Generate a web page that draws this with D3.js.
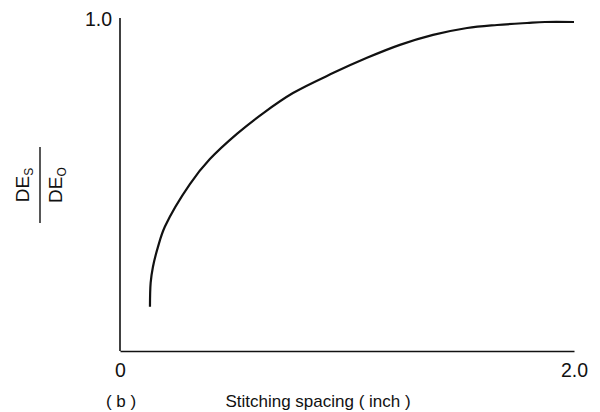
<!DOCTYPE html>
<html>
<head>
<meta charset="utf-8">
<script src="https://cdn.jsdelivr.net/npm/d3@7"></script>
<style>
  body { margin: 0; background: #fff; }
  svg text { font-family: "Liberation Sans", Arial, Helvetica, sans-serif; fill: #111; }
  .axis path { stroke: #111; stroke-width: 1.6; }
</style>
</head>
<body>
<div id="chart"></div>
<script>

// stitching spacing (inch) vs DEs/DEo
var spacing = [0.132, 0.135, 0.145, 0.167, 0.198, 0.308, 0.396, 0.515, 0.630,
               0.762, 0.938, 1.088, 1.233, 1.379, 1.529, 1.661, 1.793, 1.872, 2.0];
var ratio   = [0.133, 0.205, 0.253, 0.313, 0.375, 0.503, 0.578, 0.654, 0.716,
               0.777, 0.837, 0.883, 0.922, 0.952, 0.973, 0.982, 0.988, 0.991, 0.991];

var xTicks = [0, 2];
var xTickLabels = ["0", "2.0"];
var yTicks = [1];
var yTickLabels = ["1.0"];

var W = 600, H = 412;

var svg = d3.select("#chart").append("svg")
            .attr("width", W)
            .attr("height", H);

var XScale = d3.scaleLinear().domain([0, 2]).range([120, 574]);
var YScale = d3.scaleLinear().domain([0, 1]).range([351, 19]);

var XAxis = d3.axisBottom(XScale)
              .tickValues(xTicks)
              .tickSize(0)
              .tickPadding(12)
              .tickFormat(function (d, i) { return xTickLabels[i]; });

var YAxis = d3.axisLeft(YScale)
              .tickValues(yTicks)
              .tickSize(0)
              .tickPadding(8)
              .tickFormat(function (d, i) { return yTickLabels[i]; });

var gx = svg.append("g")
            .attr("class", "axis")
            .attr("transform", "translate(0," + YScale(0) + ")")
            .call(XAxis);

var gy = svg.append("g")
            .attr("class", "axis")
            .attr("transform", "translate(" + XScale(0) + ",0)")
            .call(YAxis);

// extend y axis slightly above 1.0 like the original
gy.select(".domain").attr("d", "M0," + YScale(0) + "V" + (YScale(1) - 1));

svg.selectAll(".axis text")
   .attr("font-family", null)
   .style("font-size", "19.5px");

svg.selectAll(".axis .tick text").style("fill", "#111");

var data = spacing.map(function (s, i) { return {x: s, y: ratio[i]}; });

var line = d3.line()
             .x(function (d) { return XScale(d.x); })
             .y(function (d) { return YScale(d.y); })
             .curve(d3.curveCatmullRom.alpha(0.5));

svg.append("path")
   .attr("d", line(data))
   .attr("fill", "none")
   .attr("stroke", "#111")
   .attr("stroke-width", 2.2);

// x label and panel tag
svg.append("text")
   .attr("x", 318)
   .attr("y", 407)
   .attr("text-anchor", "middle")
   .style("font-size", "17px")
   .text("Stitching spacing ( inch )");

svg.append("text")
   .attr("x", 121)
   .attr("y", 407)
   .attr("text-anchor", "middle")
   .style("font-size", "17px")
   .text("( b )");

// y label: DEs over DEo, rotated
var ylab = svg.append("g").attr("transform", "translate(40,185) rotate(-90)");

ylab.append("line")
    .attr("x1", -38).attr("x2", 38)
    .attr("y1", 0).attr("y2", 0)
    .attr("stroke", "#111")
    .attr("stroke-width", 1.4);

var num = ylab.append("text")
              .attr("x", 0).attr("y", -11)
              .attr("text-anchor", "middle")
              .style("font-size", "19px");
num.append("tspan").text("DE");
num.append("tspan").attr("dy", 4).style("font-size", "12px").text("S");

var den = ylab.append("text")
              .attr("x", 0).attr("y", 22)
              .attr("text-anchor", "middle")
              .style("font-size", "19px");
den.append("tspan").text("DE");
den.append("tspan").attr("dy", 4).style("font-size", "12px").text("O");

</script>
</body>
</html>
